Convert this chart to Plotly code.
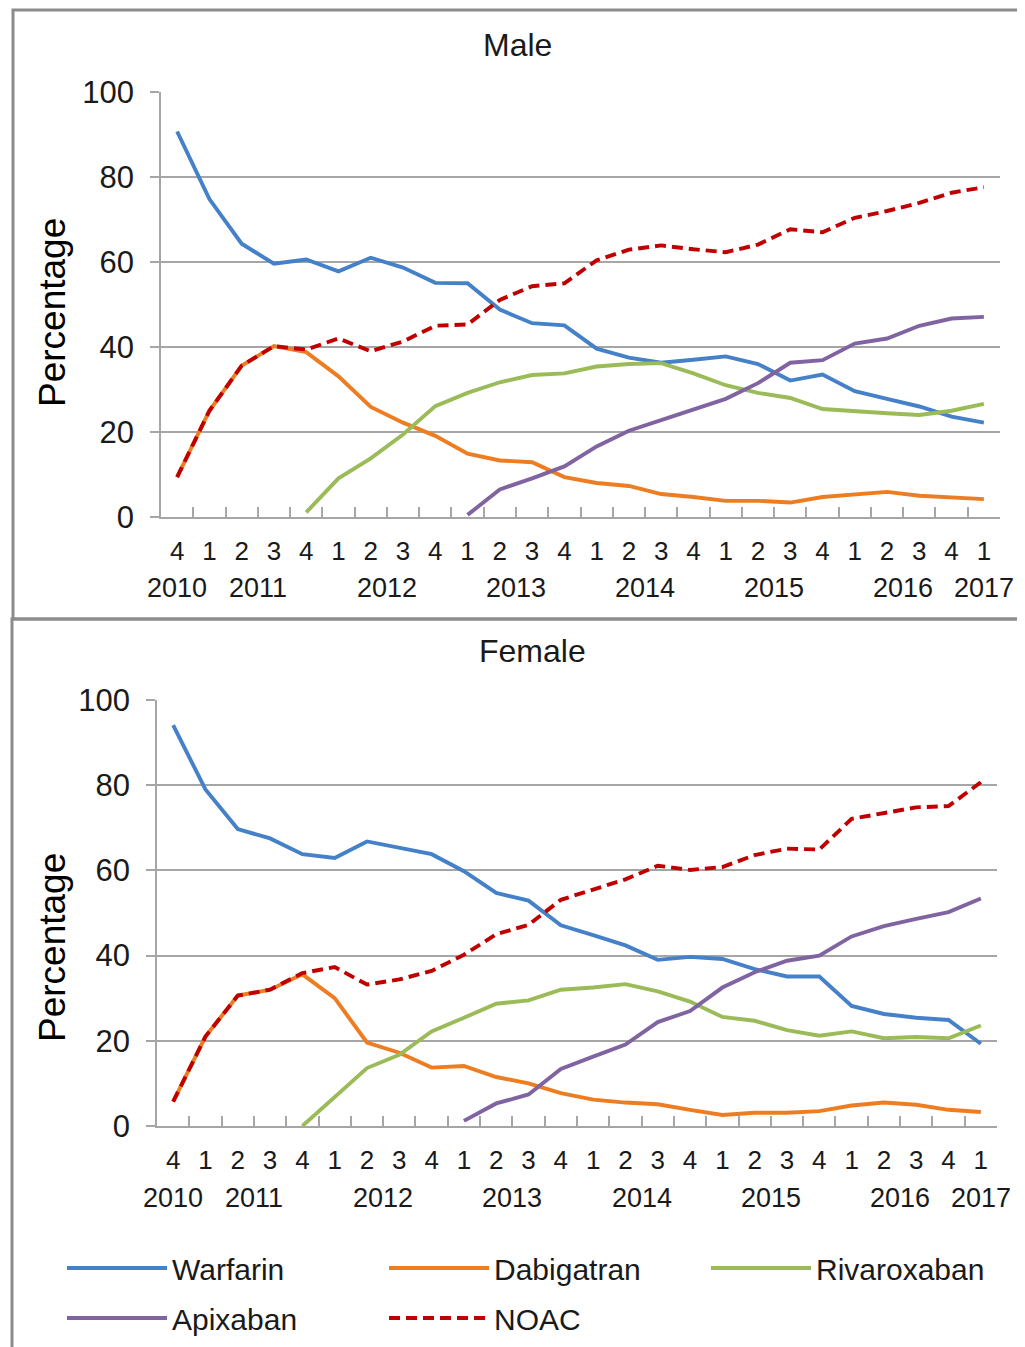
import plotly.graph_objects as go

W, H = 1025, 1347

quarter_keys = ["2010 Q4",
                "2011 Q1", "2011 Q2", "2011 Q3", "2011 Q4",
                "2012 Q1", "2012 Q2", "2012 Q3", "2012 Q4",
                "2013 Q1", "2013 Q2", "2013 Q3", "2013 Q4",
                "2014 Q1", "2014 Q2", "2014 Q3", "2014 Q4",
                "2015 Q1", "2015 Q2", "2015 Q3", "2015 Q4",
                "2016 Q1", "2016 Q2", "2016 Q3", "2016 Q4",
                "2017 Q1"]
quarter_labels = ["4"] + ["1", "2", "3", "4"] * 6 + ["1"]
year_labels = ["2010", "2011", "2012", "2013", "2014", "2015", "2016", "2017"]
year_quarters = [["2010 Q4"],
                 ["2011 Q1", "2011 Q4"], ["2012 Q1", "2012 Q4"], ["2013 Q1", "2013 Q4"],
                 ["2014 Q1", "2014 Q4"], ["2015 Q1", "2015 Q4"], ["2016 Q1", "2016 Q4"],
                 ["2017 Q1"]]

series_names = ["Warfarin", "Dabigatran", "Rivaroxaban", "Apixaban", "NOAC"]
series_colors = ["#4581C8", "#EE7D22", "#9BBB59", "#8064A2", "#C00000"]

male_warfarin = [90.7, 74.8, 64.3, 59.6, 60.6, 57.8, 61.0, 58.7, 55.1, 55.0, 48.8, 45.6, 45.1, 39.6, 37.5,
                 36.3, 37.0, 37.8, 36.0, 32.1, 33.5, 29.6, 27.8, 26.0, 23.6, 22.2]
male_dabigatran = [9.4, 25.0, 35.6, 40.2, 38.8, 33.1, 25.9, 22.2, 19.1, 14.9, 13.3, 12.9, 9.4, 8.0, 7.3,
                   5.4, 4.7, 3.8, 3.8, 3.4, 4.7, 5.2, 5.9, 5.0, 4.6, 4.2]
male_rivaroxaban = [None, None, None, None, 1.1, 9.1, 13.8, 19.4, 26.1, 29.2, 31.7, 33.4, 33.8, 35.4, 36.0,
                    36.2, 33.8, 31.0, 29.2, 28.0, 25.4, 24.8, 24.4, 24.0, 25.0, 26.6]
male_apixaban = [None, None, None, None, None, None, None, None, None, 0.5, 6.5, 9.1, 11.9, 16.6, 20.3,
                 22.8, 25.4, 27.8, 31.5, 36.3, 36.9, 40.8, 42.0, 45.0, 46.7, 47.1]
male_noac = [9.4, 25.0, 35.6, 40.2, 39.4, 42.0, 39.0, 41.3, 45.0, 45.3, 51.1, 54.3, 55.0, 60.4, 62.9,
             63.9, 63.0, 62.3, 64.1, 67.7, 67.0, 70.4, 72.0, 73.9, 76.3, 77.6]

female_warfarin = [94.1, 79.0, 69.7, 67.5, 63.8, 62.9, 66.8, 65.4, 63.8, 59.8, 54.7, 52.9, 47.1, 44.8, 42.4,
                   39.0, 39.7, 39.2, 36.8, 35.1, 35.1, 28.2, 26.3, 25.4, 24.9, 19.3]
female_dabigatran = [5.7, 21.0, 30.6, 32.0, 35.6, 30.0, 19.6, 17.2, 13.7, 14.1, 11.5, 10.0, 7.7, 6.2, 5.5,
                     5.1, 3.8, 2.6, 3.1, 3.1, 3.5, 4.8, 5.5, 5.0, 3.8, 3.3]
female_rivaroxaban = [None, None, None, None, 0.0, 6.7, 13.6, 16.7, 22.2, 25.4, 28.7, 29.5, 32.0, 32.5, 33.3,
                      31.6, 29.2, 25.6, 24.7, 22.5, 21.2, 22.2, 20.6, 20.9, 20.6, 23.6]
female_apixaban = [None, None, None, None, None, None, None, None, None, 1.2, 5.3, 7.4, 13.4, 16.3, 19.1,
                   24.4, 27.0, 32.5, 36.1, 38.8, 40.0, 44.5, 46.9, 48.6, 50.2, 53.4]
female_noac = [5.7, 21.0, 30.6, 32.0, 35.9, 37.3, 33.2, 34.4, 36.4, 40.2, 45.0, 47.2, 53.1, 55.5, 57.9,
               61.1, 60.1, 60.8, 63.6, 65.1, 64.9, 72.1, 73.5, 74.8, 75.1, 80.7]

panel_titles = ["Male", "Female"]
y_title = "Percentage"
y_ticks = [0, 20, 40, 60, 80, 100]

male = [male_warfarin, male_dabigatran, male_rivaroxaban, male_apixaban, male_noac]
female = [female_warfarin, female_dabigatran, female_rivaroxaban, female_apixaban, female_noac]

FONT = "Liberation Sans, Arial, sans-serif"
TXT = "#1a1a1a"
GRID = "#A6A6A6"
BORDER = "#8C8C8C"
OFF = 8  # page body margin offset


def px_x(v):
    return (v - OFF) / W


def px_y(v):
    return 1 - (v - OFF) / H


legend_ids = ["legend", "legend2", "legend3", "legend4", "legend5"]
# legend anchor positions in pixels (legend left x, row centre y)
legend_pos = [(62, 1268), (384, 1268), (706, 1268), (62, 1318), (384, 1318)]

fig = go.Figure()

for panel, data in enumerate([male, female]):
    xa = "x" if panel == 0 else "x2"
    ya = "y" if panel == 0 else "y2"
    for k, (name, color, vals) in enumerate(zip(series_names, series_colors, data)):
        fig.add_trace(go.Scatter(
            x=quarter_keys, y=vals, mode="lines", name=name,
            line=dict(color=color, width=3.9, dash="11px,6px" if name == "NOAC" else "solid"),
            xaxis=xa, yaxis=ya, showlegend=(panel == 1), legend=legend_ids[k],
            connectgaps=False,
        ))

# Panel geometry in pixels: (left, right, top(100), bottom(0))
geo = [(161, 1000, 92, 517), (157, 997, 700, 1126)]

axis_common_x = dict(
    type="category", categoryorder="array", categoryarray=quarter_keys,
    tickmode="array", tickvals=quarter_keys, ticktext=quarter_labels,
    tickson="boundaries", ticks="inside", ticklen=10, tickwidth=1.5, tickcolor=GRID,
    showline=True, linecolor=GRID, linewidth=1.5, showgrid=False, automargin=False,
    ticklabelstandoff=10, tickangle=0, range=[-0.5, len(quarter_keys) - 0.5],
    tickfont=dict(family=FONT, size=26, color=TXT), fixedrange=True,
)
axis_common_y = dict(
    range=[0, 100], tickvals=y_ticks, showgrid=True, gridcolor=GRID, gridwidth=1.5,
    showline=True, linecolor=GRID, linewidth=1.5, ticks="outside", ticklen=9,
    tickwidth=1.5, tickcolor=GRID, zeroline=False, ticklabelstandoff=10, automargin=False,
    tickfont=dict(family=FONT, size=31, color=TXT), fixedrange=True,
)

for i, (l, r, t, b) in enumerate(geo):
    sx = "" if i == 0 else "2"
    fig.layout["xaxis" + sx] = go.layout.XAxis(domain=[px_x(l), px_x(r)], anchor="y" + sx, **axis_common_x)
    fig.layout["yaxis" + sx] = go.layout.YAxis(domain=[px_y(b), px_y(t)], anchor="x" + sx, **axis_common_y)

annotations = [
    dict(text=panel_titles[0], x=px_x(517), y=px_y(45)),
    dict(text=panel_titles[1], x=px_x(532), y=px_y(651)),
]
for a in annotations:
    a.update(xref="paper", yref="paper", xanchor="center", yanchor="middle", showarrow=False,
             font=dict(family=FONT, size=32, color=TXT))
for yc in (313, 948):
    annotations.append(dict(text=y_title, x=px_x(52), y=px_y(yc), xref="paper", yref="paper",
                            xanchor="center", yanchor="middle", showarrow=False, textangle=-90,
                            font=dict(family=FONT, size=37, color="#000000")))

# year group labels, centred under each year's quarters
key_index = {k: i for i, k in enumerate(quarter_keys)}
for i, yrow in enumerate([588, 1198]):
    xr = "x" if i == 0 else "x2"
    for lab, grp in zip(year_labels, year_quarters):
        centre = sum(key_index[g] for g in grp) / len(grp)
        annotations.append(dict(text=lab, x=centre, xref=xr, y=px_y(yrow), yref="paper",
                                xanchor="center", yanchor="middle", showarrow=False,
                                font=dict(family=FONT, size=27, color=TXT)))

shapes = [
    dict(type="rect", xref="paper", yref="paper", x0=px_x(13), x1=1.05, y0=px_y(619), y1=px_y(10),
         line=dict(color=BORDER, width=3), layer="below"),
    dict(type="rect", xref="paper", yref="paper", x0=px_x(12), x1=1.05, y0=-0.05, y1=px_y(619),
         line=dict(color=BORDER, width=3), layer="below"),
]

layout_legends = {}
for lid, (lx, ly) in zip(legend_ids, legend_pos):
    layout_legends[lid] = dict(
        x=px_x(lx), y=px_y(ly), xanchor="left", yanchor="middle", orientation="v",
        font=dict(family=FONT, size=30, color=TXT), itemwidth=100,
        bgcolor="rgba(0,0,0,0)", borderwidth=0,
    )

fig.update_layout(
    template="none",
    width=W, height=H, margin=dict(l=0, r=0, t=0, b=0, pad=0, autoexpand=False),
    paper_bgcolor="white", plot_bgcolor="white",
    annotations=annotations, shapes=shapes,
    font=dict(family=FONT, color=TXT),
    **layout_legends,
)

fig.write_html("out.html")
